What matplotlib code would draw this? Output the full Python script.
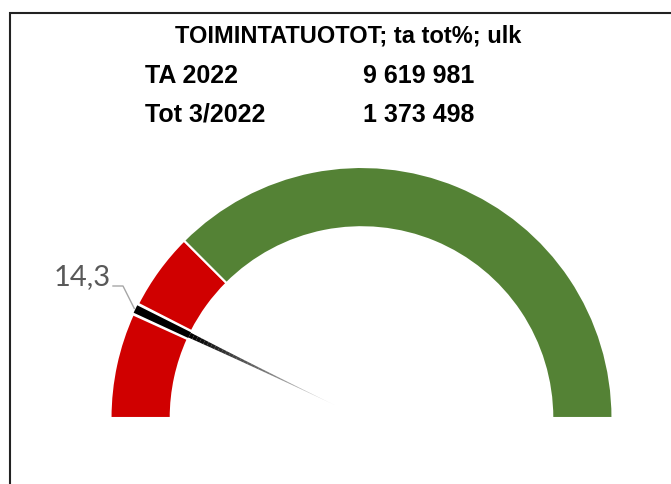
import numpy as np
import matplotlib
matplotlib.use("Agg")
import matplotlib.pyplot as plt
from matplotlib.patches import Wedge, Rectangle

# data
title = "TOIMINTATUOTOT; ta tot%; ulk"
row_labels = ["TA 2022", "Tot 3/2022"]
row_values = ["9 619 981", "1 373 498"]
band_limits = [0, 25, 100]          # % of gauge: red 0-25, green 25-100
band_colors = ["#d00000", "#548235"]
needle_value = 14.3
needle_label = "14,3"

W, H = 671, 484
fig = plt.figure(figsize=(W / 100, H / 100), dpi=100)

# gauge axes, center at (361.5, 418) px, radius 251 px
cx, cy, R = 361.5, 418, 251
xl, yl = (-1.1, 1.1), (-0.1, 1.05)
ax = fig.add_axes([(cx + xl[0] * R) / W, (H - cy + yl[0] * R) / H,
                   (xl[1] - xl[0]) * R / W, (yl[1] - yl[0]) * R / H])
ax.set_xlim(*xl)
ax.set_ylim(*yl)
ax.axis("off")

def ang(p):
    return 180 - p * 1.8

r_in = 0.76
width = 1 - r_in
nw = 0.75  # needle half-width in percent

# bands, split around needle
for (a, b), c in zip(zip(band_limits[:-1], band_limits[1:]), band_colors):
    pieces = [(a, b)]
    if a < needle_value < b:
        pieces = [(a, needle_value - nw), (needle_value + nw, b)]
    for p0, p1 in pieces:
        ax.add_patch(Wedge((0, 0), 1, ang(p1), ang(p0), width=width,
                           facecolor=c, edgecolor="white", linewidth=1.5))

# needle inside ring
ax.add_patch(Wedge((0, 0), 1, ang(needle_value + nw * 0.7), ang(needle_value - nw * 0.7),
                   width=width, facecolor="black", edgecolor="none"))
# needle tail fading toward center
n = 40
rs = np.linspace(0.12, r_in, n + 1)
for i in range(n):
    frac = i / n
    hw = nw * 0.6 * (0.2 + 0.8 * frac)
    ax.add_patch(Wedge((0, 0), rs[i + 1], ang(needle_value + hw), ang(needle_value - hw),
                       width=rs[i + 1] - rs[i], facecolor="black",
                       alpha=min(1, frac ** 0.9 + 0.03), edgecolor="none"))

# label with leader line
t = np.deg2rad(ang(needle_value))
tip = np.array([np.cos(t), np.sin(t)]) * 1.005
lx, ly = (113 - cx) / R, (cy - 286) / R
ax.plot([lx, (123 - cx) / R, tip[0]], [ly, ly, tip[1]], color="#a6a6a6", lw=1)
ax.text(lx - 0.01, (cy - 285) / R, needle_label, ha="right", va="baseline",
        fontsize=21, color="#595959", family=["Lato", "DejaVu Sans"])

# header text
fig.text(348 / W, 1 - 42 / H, title, ha="center", va="baseline", fontsize=17,
         fontweight="bold", family="Liberation Sans")
for i, (lab, val) in enumerate(zip(row_labels, row_values)):
    y = 1 - (83 + 39 * i) / H
    fig.text(145 / W, y, lab, ha="left", va="baseline", fontsize=18,
             fontweight="bold", family="Liberation Sans")
    fig.text(363 / W, y, val, ha="left", va="baseline", fontsize=18,
             fontweight="bold", family="Liberation Sans")

# frame
fig.add_artist(Rectangle((10 / W, -0.1), 1.2, 1.1 - 13 / H, transform=fig.transFigure,
                         fill=False, edgecolor="#222222", linewidth=1.5, clip_on=False))

fig.savefig("out.png", dpi=100)
